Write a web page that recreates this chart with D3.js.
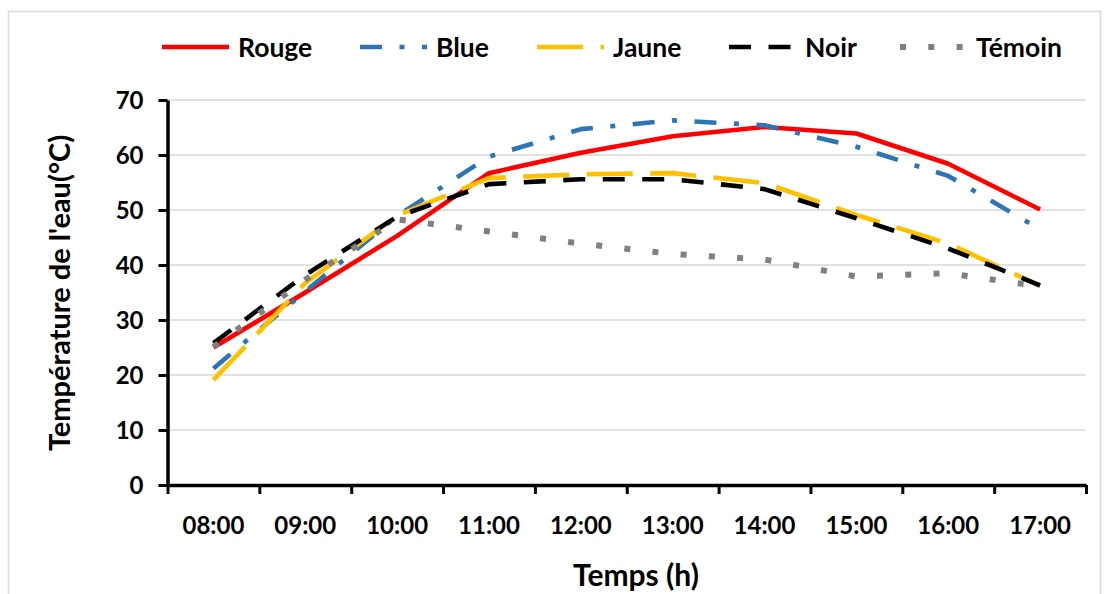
<!DOCTYPE html>
<html>
<head>
<meta charset="utf-8">
<script src="https://cdn.jsdelivr.net/npm/d3@7"></script>
<style>
  html, body { margin: 0; padding: 0; background: #fff; }
  svg { display: block; }
  text { font-family: "Lato", "Liberation Sans", sans-serif; font-weight: 700; fill: #000; }
</style>
</head>
<body>
<svg id="chart" width="1104" height="594"></svg>
<script>
// ---- data ----
const categories = ["08:00", "09:00", "10:00", "11:00", "12:00", "13:00", "14:00", "15:00", "16:00", "17:00"];
const rouge  = [25.0, 35.0, 45.3, 56.7, 60.4, 63.4, 65.1, 63.9, 58.4, 50.1];
const blue   = [21.2, 35.2, 48.9, 59.7, 64.7, 66.3, 65.4, 61.5, 56.2, 46.5];
const jaune  = [19.1, 36.7, 49.0, 55.8, 56.5, 56.7, 54.9, 49.1, 43.9, 36.2];
const noir   = [25.8, 38.2, 48.8, 54.7, 55.6, 55.6, 53.8, 48.5, 43.0, 36.3];
const temoin = [25.1, 37.3, 48.3, 46.1, 43.9, 42.0, 41.0, 37.9, 38.5, 36.1];
const seriesNames = ["Rouge", "Blue", "Jaune", "Noir", "Témoin"];
const yTicks = [0, 10, 20, 30, 40, 50, 60, 70];
const xTitle = "Temps  (h)";
const yTitle = "Température de l'eau(°C)";

(function () {
// ---- styles ----
const styles = [
  { color: "#ff0000", dash: null,                width: 4.6 },
  { color: "#2e75b6", dash: "22 17.5 5 17.5",    width: 4.6 },
  { color: "#ffc000", dash: "46 17.5",           width: 4.6 },
  { color: "#000000", dash: "22 17.5",           width: 4.6 },
  { color: "#808080", dash: "6 22.3",            width: 6 }
];
const seriesValues = [rouge, blue, jaune, noir, temoin];

const svg = d3.select("#chart");
const pLeft = 167.5, pRight = 1086, pTop = 100, pBottom = 485;

// frame
svg.append("rect").attr("x", 8.5).attr("y", 11.5).attr("width", 1092).attr("height", 600)
  .attr("fill", "none").attr("stroke", "#d9d9d9").attr("stroke-width", 1.5);

const x = d3.scaleBand().domain(categories).range([pLeft, pRight]).padding(0);
const xc = c => x(c) + x.bandwidth() / 2;
const y = d3.scaleLinear().domain([0, 70]).range([pBottom, pTop]);

// gridlines
svg.append("g").selectAll("line").data(yTicks.filter(t => t > 0)).join("line")
  .attr("x1", pLeft).attr("x2", pRight)
  .attr("y1", d => y(d)).attr("y2", d => y(d))
  .attr("stroke", "#d9d9d9").attr("stroke-width", 1.5);

// series lines
const line = d3.line().x((d, i) => xc(categories[i])).y(d => y(d));
seriesValues.forEach((vals, k) => {
  const s = styles[k];
  svg.append("path").datum(vals)
    .attr("d", line)
    .attr("fill", "none")
    .attr("stroke", s.color)
    .attr("stroke-width", s.width)
    .attr("stroke-linejoin", "round")
    .attr("stroke-linecap", "butt")
    .attr("stroke-dasharray", s.dash);
});

// y axis
const yAxis = svg.append("g").attr("transform", `translate(${pLeft},0)`)
  .call(d3.axisLeft(y).tickValues(yTicks).tickSize(9).tickSizeOuter(0).tickPadding(15));
yAxis.select(".domain").attr("stroke", "#000").attr("stroke-width", 3.5);
yAxis.selectAll(".tick line").attr("stroke", "#000").attr("stroke-width", 3);
yAxis.selectAll(".tick text").attr("font-size", 24).attr("dy", "0.36em")
  .style("font-family", "Lato, 'Liberation Sans', sans-serif").style("font-weight", 700);

// x axis: boundary ticks
const xb = d3.scaleLinear().domain([0, categories.length]).range([pLeft, pRight]);
const xTicksAxis = svg.append("g").attr("transform", `translate(0,${pBottom})`)
  .call(d3.axisBottom(xb).tickValues(d3.range(categories.length + 1)).tickSize(9).tickSizeOuter(0).tickFormat(""));
xTicksAxis.select(".domain").attr("stroke", "#000").attr("stroke-width", 3.5);
xTicksAxis.selectAll(".tick line").attr("stroke", "#000").attr("stroke-width", 3);

// x axis: labels
const xAxis = svg.append("g").attr("transform", `translate(0,${pBottom})`)
  .call(d3.axisBottom(x).tickSize(0).tickSizeOuter(0));
xAxis.select(".domain").remove();
xAxis.selectAll(".tick text").attr("font-size", 24).attr("y", 49).attr("dy", 0)
  .style("font-family", "Lato, 'Liberation Sans', sans-serif").style("font-weight", 700);

// axis titles
svg.append("text").attr("x", 636).attr("y", 586)
  .attr("text-anchor", "middle").attr("font-size", 30).text(xTitle);
svg.append("text").attr("transform", "translate(70,293) rotate(-90)")
  .attr("text-anchor", "middle").attr("font-size", 29).text(yTitle);

// legend
const legendX = [162, 360, 537, 729, 900];
const lg = svg.append("g");
seriesNames.forEach((name, k) => {
  const s = styles[k];
  lg.append("line").attr("x1", legendX[k]).attr("x2", legendX[k] + 67)
    .attr("y1", 47).attr("y2", 47)
    .attr("stroke", s.color).attr("stroke-width", s.width)
    .attr("stroke-dasharray", s.dash);
  lg.append("text").attr("x", legendX[k] + 76).attr("y", 57)
    .attr("font-size", 26.5).text(name);
});
})();
</script>
</body>
</html>
